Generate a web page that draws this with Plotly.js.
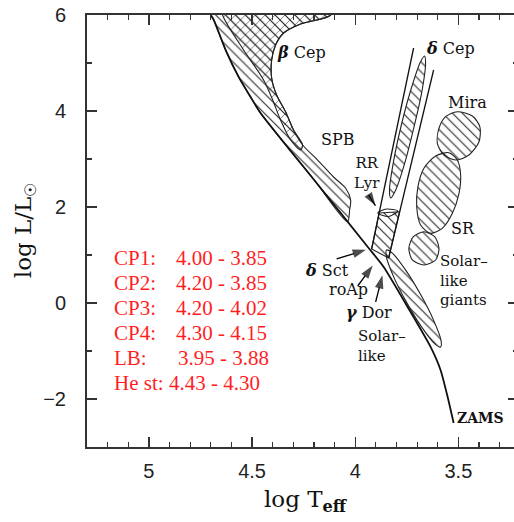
<!DOCTYPE html>
<html><head><meta charset="utf-8">
<script src="https://cdn.plot.ly/plotly-3.0.1.min.js"></script>
<style>html,body{margin:0;padding:0;background:#fff;overflow:hidden;width:514px;height:522px}</style>
</head><body><div id="chart" style="width:518px;height:522px"></div>
<script>
// ---- data (log Teff, log L/Lsun) ----
const zamsT = [4.70, 4.686, 4.628, 4.565, 4.507, 4.459, 4.197, 3.935, 3.862, 3.746, 3.634, 3.586, 3.552, 3.523];
const zamsL = [6.0, 5.90, 5.27, 4.71, 4.29, 3.96, 2.552, 1.146, 0.75, -0.083, -0.92, -1.40, -1.96, -2.50];

const blueEdgeT = [3.717, 3.9205];
const blueEdgeL = [5.3125, 1.125];
const redEdgeT = [3.620, 3.838];
const redEdgeL = [4.854, 0.9375];

const spbT = [4.72, 4.70, 4.686, 4.628, 4.565, 4.507, 4.459, 4.197, 4.037, 4.027, 4.022, 4.047, 4.105, 4.182, 4.255, 4.299, 4.337, 4.381, 4.405, 4.405, 4.386, 4.347, 4.265, 4.119, 4.10, 4.72];
const spbL = [6.3, 6.0, 5.90, 5.27, 4.71, 4.29, 3.96, 2.552, 1.693, 1.9375, 2.146, 2.396, 2.625, 2.979, 3.292, 3.604, 3.979, 4.333, 4.6875, 5.0625, 5.375, 5.625, 5.8125, 6.0, 6.3, 6.3];

const betaCepT = [4.65, 4.643, 4.541, 4.444, 4.400, 4.362, 4.313, 4.265, 4.255, 4.299, 4.337, 4.381, 4.405, 4.405, 4.386, 4.347, 4.265, 4.119, 4.10, 4.65];
const betaCepL = [6.3, 6.0, 5.271, 4.646, 4.229, 3.8125, 3.396, 3.1875, 3.292, 3.604, 3.979, 4.333, 4.6875, 5.0625, 5.375, 5.625, 5.8125, 6.0, 6.3, 6.3];

const deltaCepT = [3.664, 3.659, 3.678, 3.717, 3.761, 3.807, 3.828, 3.834, 3.814, 3.777, 3.731, 3.685, 3.664];
const deltaCepL = [5.146, 4.985, 4.379, 3.635, 2.90, 2.323, 2.19, 2.35, 2.954, 3.698, 4.433, 5.0125, 5.146];

const deltaSctT = [3.884, 3.785, 3.838, 3.9205, 3.884];
const deltaSctL = [1.875, 1.90, 0.9375, 1.125, 1.875];

const rrLyrT = [3.891, 3.848, 3.794, 3.838, 3.891];
const rrLyrL = [1.875, 1.958, 1.917, 1.802, 1.875];

const miraT = [3.505, 3.432, 3.396, 3.400, 3.449, 3.513, 3.570, 3.602, 3.594, 3.562, 3.505];
const miraL = [3.985, 3.896, 3.673, 3.360, 3.083, 2.979, 3.083, 3.327, 3.640, 3.881, 3.985];

const srT = [3.546, 3.505, 3.489, 3.497, 3.529, 3.578, 3.635, 3.683, 3.702, 3.696, 3.667, 3.610, 3.546];
const srL = [3.131, 2.979, 2.667, 2.285, 1.869, 1.556, 1.452, 1.625, 2.006, 2.423, 2.806, 3.0625, 3.131];

const giantsT = [3.667, 3.615, 3.594, 3.610, 3.667, 3.723, 3.740, 3.718, 3.667];
const giantsL = [1.485, 1.381, 1.140, 0.896, 0.792, 0.896, 1.140, 1.381, 1.485];

const solarT = [3.848, 3.820, 3.753, 3.683, 3.622, 3.584, 3.586, 3.614, 3.681, 3.751, 3.812, 3.849, 3.848];
const solarL = [1.104, 1.039, 0.669, 0.175, -0.341, -0.780, -0.917, -0.851, -0.482, 0.013, 0.529, 0.968, 1.104];

// labels
const labelText = ['<b><i>β</i></b> Cep', 'SPB', '<b><i>δ</i></b> Cep', 'Mira', 'SR', 'RR<br>Lyr',
  'Solar–<br>like<br>giants', '<b><i>δ</i></b> Sct', 'roAp', '<b><i>γ</i></b> Dor', 'Solar–<br>like', '<b>ZAMS</b>'];
const labelT = [4.260, 4.085, 3.538, 3.455, 3.479, 3.942, 3.594, 4.139, 4.032, 3.935, 3.993, 3.392];
const labelL = [5.229, 3.396, 5.3125, 4.167, 1.5625, 2.70, 0.46, 0.6875, 0.271, -0.208, -0.895, -2.396];
const labelAnchor = ['center', 'center', 'center', 'center', 'center', 'center', 'left', 'center', 'center', 'center', 'left', 'center'];
const labelSize = [16, 16, 16, 16, 16, 15, 15, 16, 16, 16, 15, 14];

// arrows (tail -> tip)
const arrowTailT = [3.935, 4.090, 3.988, 3.901];
const arrowTailL = [2.25, 0.917, 0.354, 0.021];
const arrowTipT = [3.902, 3.948, 3.915, 3.868];
const arrowTipL = [2.03, 1.11, 0.78, 0.58];

// red table
const cpNames = ['CP1:', 'CP2:', 'CP3:', 'CP4:', 'LB:', 'He st:'];
const cpRanges = ['4.00 - 3.85', '4.20 - 3.85', '4.20 - 4.02', '4.30 - 4.15', '3.95 - 3.88', '4.43 - 4.30'];
const cpRowL = [0.9375, 0.417, -0.104, -0.625, -1.146, -1.675];
const cpNameT = 5.180;
const cpRangeT = [4.880, 4.880, 4.880, 4.880, 4.871, 4.914];

const xTickVals = [5, 4.5, 4, 3.5];
const xTickText = ['5', '4.5', '4', '3.5'];
const yTickVals = [-2, 0, 2, 4, 6];
const yTickText = ['−2', '0', '2', '4', '6'];

// ---- build ----
function region(T, L, shape, size) {
  return {
    type: 'scatter', mode: 'lines', x: T, y: L, fill: 'toself',
    fillcolor: 'rgba(0,0,0,0)',
    fillpattern: {shape: shape, size: size, solidity: 0.16, fgcolor: '#2a2a2a', bgcolor: 'rgba(0,0,0,0)'},
    line: {color: '#222', width: 1.1, shape: 'spline', smoothing: 0.8},
    hoverinfo: 'skip', showlegend: false
  };
}
function line(T, L, w) {
  return {type: 'scatter', mode: 'lines', x: T, y: L, line: {color: '#111', width: w, shape: 'spline', smoothing: 0.6},
    hoverinfo: 'skip', showlegend: false};
}

const traces = [
  region(spbT, spbL, '\\', 7),
  region(betaCepT, betaCepL, 'x', 7),
  region(deltaCepT, deltaCepL, '\\', 7),
  region(deltaSctT, deltaSctL, '\\', 7),
  region(rrLyrT, rrLyrL, '', 7),
  region(miraT, miraL, '\\', 7),
  region(srT, srL, '\\', 7),
  region(giantsT, giantsL, '\\', 7),
  region(solarT, solarL, '\\', 7),
  line(zamsT, zamsL, 1.8),
  line(blueEdgeT, blueEdgeL, 1.3),
  line(redEdgeT, redEdgeL, 1.3)
];
traces[3].line.shape = 'linear';

arrowTipT.forEach((t, i) => {
  traces.push({type: 'scatter', mode: 'lines+markers', x: [arrowTailT[i], t], y: [arrowTailL[i], arrowTipL[i]],
    line: {color: '#000', width: 1.3},
    marker: {symbol: 'arrow', angleref: 'previous', size: [0, 14], color: '#000', line: {width: 0}},
    hoverinfo: 'skip', showlegend: false, cliponaxis: false});
});

const annotations = [];
labelText.forEach((t, i) => {
  annotations.push({x: labelT[i], y: labelL[i], xref: 'x', yref: 'y', text: t, showarrow: false,
    xanchor: labelAnchor[i], align: labelAnchor[i], yanchor: 'middle', borderpad: 0,
    font: {family: 'DejaVu Serif', size: labelSize[i], color: '#111'}});
});
cpNames.forEach((n, i) => {
  const f = {family: 'Liberation Serif', size: 21, color: '#ff1f1f'};
  annotations.push({x: cpNameT, y: cpRowL[i], xref: 'x', yref: 'y', text: n, showarrow: false,
    xanchor: 'left', yanchor: 'middle', font: f});
  annotations.push({x: cpRangeT[i], y: cpRowL[i], xref: 'x', yref: 'y', text: cpRanges[i], showarrow: false,
    xanchor: 'left', yanchor: 'middle', font: f});
});
annotations.push({x: 219 / 431, y: -0.125, xref: 'paper', yref: 'paper', text: 'log T<sub><b>eff</b></sub>',
  showarrow: false, xanchor: 'center', yanchor: 'middle', font: {family: 'DejaVu Serif', size: 23, color: '#111'}});
annotations.push({x: -62 / 431, y: 0.502, xref: 'paper', yref: 'paper', text: 'log L/L<sub>☉</sub>', textangle: -90,
  showarrow: false, xanchor: 'center', yanchor: 'middle', font: {family: 'DejaVu Serif', size: 23, color: '#111'}});

const axisCommon = {
  ticks: 'inside', ticklen: 10, tickwidth: 1.4, tickcolor: '#333',
  showline: true, linecolor: '#333', linewidth: 2, mirror: 'ticks',
  showgrid: false, zeroline: false, fixedrange: true,
  tickfont: {family: 'Liberation Sans', size: 20, color: '#222'}
};
const layout = {
  width: 518, height: 522,
  margin: {l: 87, r: 0, t: 15, b: 75},
  paper_bgcolor: '#fff', plot_bgcolor: '#fff',
  showlegend: false,
  xaxis: Object.assign({}, axisCommon, {
    range: [5.3, 3.211], tickmode: 'array', tickvals: xTickVals, ticktext: xTickText, ticklabelstandoff: 5,
    minor: {dtick: 0.1, tick0: 0, ticks: 'inside', ticklen: 5, tickwidth: 1.2, tickcolor: '#333'}
  }),
  yaxis: Object.assign({}, axisCommon, {
    range: [-3, 6], tickmode: 'array', tickvals: yTickVals, ticktext: yTickText, ticklabelstandoff: 15,
    minor: {dtick: 1, tick0: 0, ticks: 'inside', ticklen: 5, tickwidth: 1.2, tickcolor: '#333'}
  }),
  annotations: annotations
};
Plotly.newPlot('chart', traces, layout, {staticPlot: true, displayModeBar: false});
</script></body></html>
